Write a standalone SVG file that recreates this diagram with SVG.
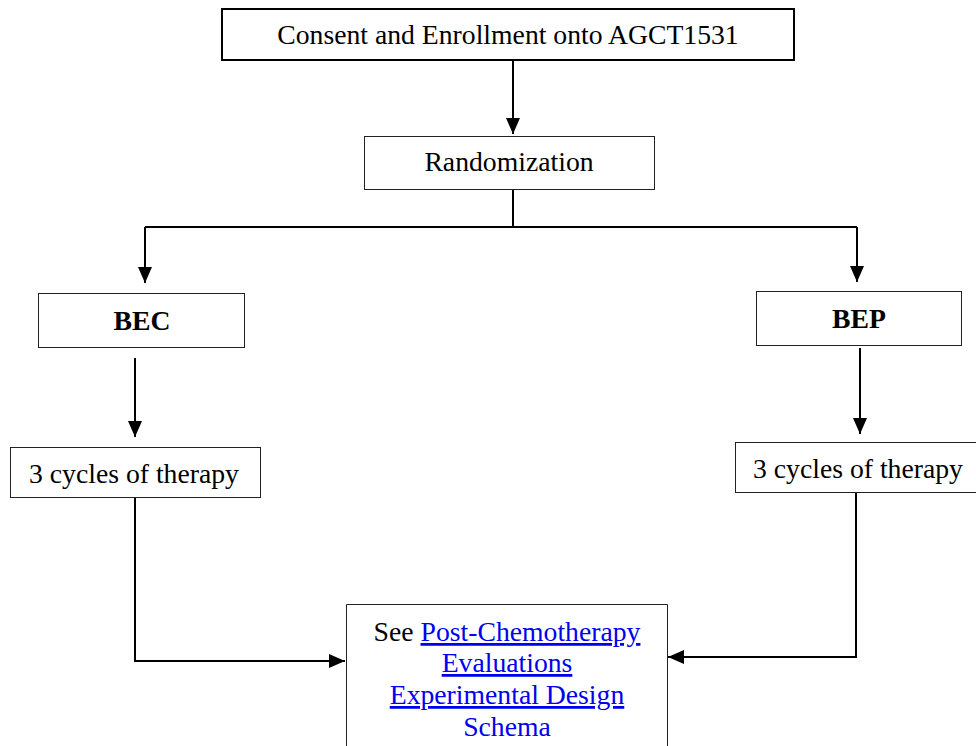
<svg xmlns="http://www.w3.org/2000/svg" width="976" height="746" viewBox="0 0 976 746">
<style>
.box{fill:#fff;stroke:#222;stroke-width:1}
.t{font-family:"Liberation Serif","Times New Roman",serif;font-size:27.7px;fill:#000;text-anchor:middle}
.b{font-weight:bold}
.lk{fill:#0000ee;text-decoration:underline}
.c{fill:none;stroke:#000;stroke-width:2}
</style>
<defs>
<marker id="arr" viewBox="0 0 16 14" refX="16" refY="7" markerWidth="16" markerHeight="14" markerUnits="userSpaceOnUse" orient="auto">
<path d="M0,0 L16,7 L0,14 z" fill="#000"/>
</marker>
</defs>
<rect width="976" height="746" fill="#fff"/>
<g id="connectors">
<path class="c" d="M513,60 V134" marker-end="url(#arr)"/>
<path class="c" d="M513,189 V227 M145,227 H857"/>
<path class="c" d="M145,227 V283" marker-end="url(#arr)"/>
<path class="c" d="M857,227 V282" marker-end="url(#arr)"/>
<path class="c" d="M135,358 V437" marker-end="url(#arr)"/>
<path class="c" d="M860,348 V434" marker-end="url(#arr)"/>
<path class="c" d="M135,497 V661 H345" marker-end="url(#arr)"/>
<path class="c" d="M856,492 V657 H668" marker-end="url(#arr)"/>
</g>
<g id="consent">
<rect x="222" y="9" width="572" height="51" fill="#fff" stroke="#000" stroke-width="2"/>
<text class="t" x="508" y="44">Consent and Enrollment onto AGCT1531</text>
</g>
<g id="randomization">
<rect class="box" x="364.5" y="136.5" width="290" height="53"/>
<text class="t" x="509" y="171">Randomization</text>
</g>
<g id="bec">
<rect class="box" x="38.5" y="293.5" width="206" height="54"/>
<text class="t b" x="142" y="330">BEC</text>
</g>
<g id="bep">
<rect class="box" x="756.5" y="291.5" width="205" height="54"/>
<text class="t b" x="859" y="328">BEP</text>
</g>
<g id="cycles-left">
<rect class="box" x="10.5" y="447.5" width="250" height="50"/>
<text class="t" x="134" y="483">3 cycles of therapy</text>
</g>
<g id="cycles-right">
<rect class="box" x="735.5" y="442.5" width="241" height="50"/>
<text class="t" x="858" y="478">3 cycles of therapy</text>
</g>
<g id="post-chemo">
<path d="M346.5,760 V604.5 H667.5 V760" fill="#fff" stroke="#222" stroke-width="1"/>
<text class="t" x="507" y="641">See <tspan class="lk">Post-Chemotherapy</tspan></text>
<text class="t lk" x="507" y="672">Evaluations</text>
<text class="t lk" x="507" y="704">Experimental Design</text>
<text class="t" x="507" y="736" style="fill:#0000ee">Schema</text>
</g>
</svg>
